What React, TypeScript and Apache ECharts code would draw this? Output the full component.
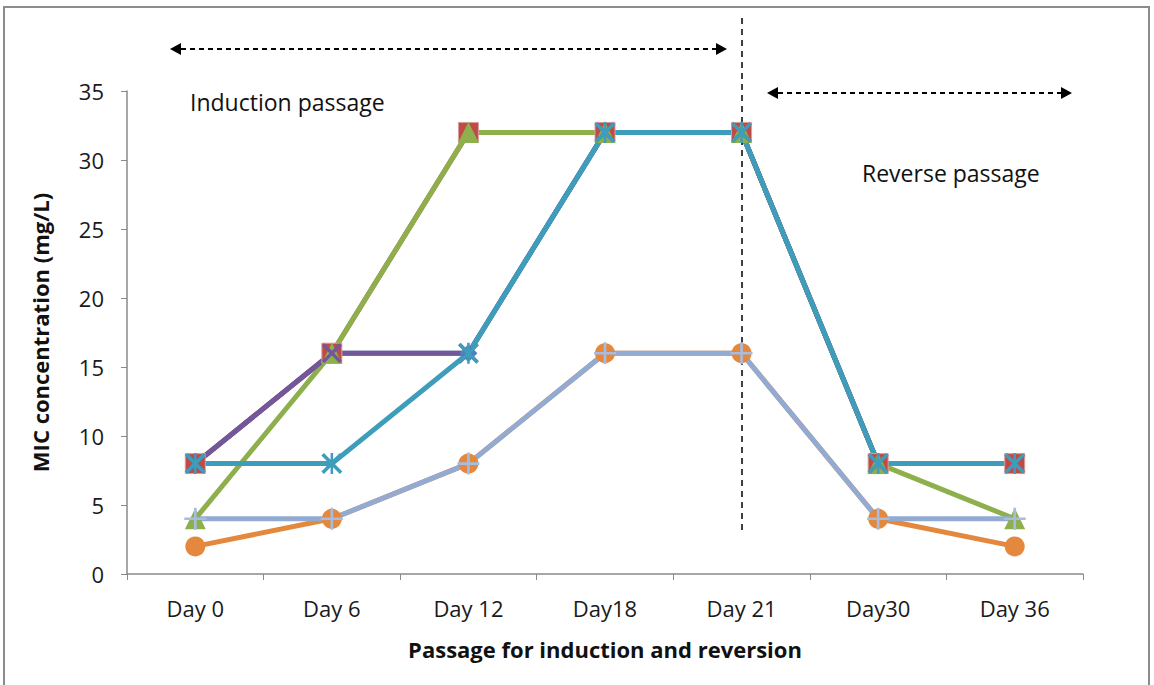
import React, { useEffect, useRef } from "react";
import * as echarts from "echarts";

const categories = ["Day 0", "Day 6", "Day 12", "Day18", "Day 21", "Day30", "Day 36"];
const yTicks = { min: 0, max: 35, interval: 5 };

const seriesBlue = [8, 16, 16, 32, 32, 8, 8];
const seriesRed = [8, 16, 32, 32, 32, 8, 8];
const seriesGreen = [4, 16, 32, 32, 32, 8, 4];
const seriesPurple = [8, 16, 16, 32, 32, 8, 8];
const seriesTeal = [8, 8, 16, 32, 32, 8, 8];
const seriesOrange = [2, 4, 8, 16, 16, 4, 2];
const seriesLavender = [4, 4, 8, 16, 16, 4, 4];

const xAxisTitle = "Passage for induction and reversion";
const yAxisTitle = "MIC concentration (mg/L)";
const inductionLabel = "Induction passage";
const reverseLabel = "Reverse passage";

const FONT = "'Open Sans', 'Noto Sans', sans-serif";

const crossPath =
  "path://M0,1.2 L1.2,0 L5,3.8 L8.8,0 L10,1.2 L6.2,5 L10,8.8 L8.8,10 L5,6.2 L1.2,10 L0,8.8 L3.8,5 Z";
const starPath =
  "path://M0,1.2 L1.2,0 L5,3.8 L8.8,0 L10,1.2 L6.2,5 L10,8.8 L8.8,10 L5,6.2 L1.2,10 L0,8.8 L3.8,5 Z M4.4,0 L5.6,0 L5.6,10 L4.4,10 Z";
const plusPath =
  "path://M4.4,0 L5.6,0 L5.6,4.4 L10,4.4 L10,5.6 L5.6,5.6 L5.6,10 L4.4,10 L4.4,5.6 L0,5.6 L0,4.4 L4.4,4.4 Z";

function lineSeries(name: string, data: number[], color: string, symbol: string, size: number, markerColor?: string) {
  return {
    name,
    type: "line",
    data,
    symbol,
    symbolSize: size,
    showAllSymbol: true,
    lineStyle: { color, width: 5 },
    itemStyle: { color: markerColor || color },
    emphasis: { disabled: true },
  };
}

function doubleArrow(x1: number, x2: number, y: number) {
  const h = 6;
  const l = 11;
  return [
    {
      type: "line",
      shape: { x1: x1 + l, y1: y, x2: x2 - l, y2: y },
      style: { stroke: "#000", lineWidth: 2, lineDash: [5, 4] },
    },
    {
      type: "polygon",
      shape: { points: [[x1, y], [x1 + l, y - h], [x1 + l, y + h]] },
      style: { fill: "#000" },
    },
    {
      type: "polygon",
      shape: { points: [[x2, y], [x2 - l, y - h], [x2 - l, y + h]] },
      style: { fill: "#000" },
    },
  ];
}

export default function App() {
  const ref = useRef<HTMLDivElement>(null);

  useEffect(() => {
    if (!ref.current) return;
    const chart = echarts.init(ref.current, null, { renderer: "svg" });
    chart.setOption({
      animation: false,
      backgroundColor: "#fff",
      grid: { left: 127, right: 71, top: 91, bottom: 111, containLabel: false },
      xAxis: {
        type: "category",
        data: categories,
        boundaryGap: true,
        axisLine: { lineStyle: { color: "#8a8a8a", width: 1.5 } },
        axisTick: { show: true, length: 6, lineStyle: { color: "#8a8a8a" } },
        axisLabel: { color: "#1a1a1a", fontSize: 22, fontFamily: FONT, margin: 23 },
        name: xAxisTitle,
        nameLocation: "middle",
        nameGap: 64,
        nameTextStyle: { color: "#111", fontSize: 22, fontWeight: "bold", fontFamily: FONT },
      },
      yAxis: {
        type: "value",
        min: yTicks.min,
        max: yTicks.max,
        interval: yTicks.interval,
        splitLine: { show: false },
        axisLine: { show: true, lineStyle: { color: "#8a8a8a", width: 1.5 } },
        axisTick: { show: true, length: 6, lineStyle: { color: "#8a8a8a" } },
        axisLabel: { color: "#1a1a1a", fontSize: 22, fontFamily: FONT, margin: 23 },
        name: yAxisTitle,
        nameLocation: "middle",
        nameGap: 76,
        nameTextStyle: { color: "#111", fontSize: 22, fontWeight: "bold", fontFamily: FONT },
      },
      series: [
        lineSeries("S1", seriesBlue, "#4F81BD", "diamond", 18),
        {
          ...lineSeries("S2", seriesRed, "#BE4B48", "rect", 20),
          itemStyle: { color: "#BE4B48", borderColor: "#d9a09e", borderWidth: 1 },
        },
        lineSeries("S3", seriesGreen, "#8EB04C", "triangle", 21),
        lineSeries("S4", seriesPurple, "#73579B", crossPath, 20),
        lineSeries("S5", seriesTeal, "#3E9DBA", starPath, 21),
        lineSeries("S6", seriesOrange, "#E3883C", "circle", 20),
        lineSeries("S7", seriesLavender, "#93AAD3", plusPath, 22, "#A6BCE0"),
      ],
      graphic: [
        {
          type: "rect",
          shape: { x: 4, y: 7, width: 1145, height: 700 },
          style: { fill: "none", stroke: "#8c8c8c", lineWidth: 2 },
          silent: true,
        },
        ...doubleArrow(170, 727, 49),
        ...doubleArrow(767, 1072, 93),
        {
          type: "line",
          shape: { x1: 742, y1: 18, x2: 742, y2: 535 },
          style: { stroke: "#000", lineWidth: 1.5, lineDash: [6, 5] },
        },
        {
          type: "text",
          x: 190,
          y: 102,
          style: { text: inductionLabel, fill: "#111", fontSize: 23, fontFamily: FONT, verticalAlign: "middle" },
        },
        {
          type: "text",
          x: 862,
          y: 173,
          style: { text: reverseLabel, fill: "#111", fontSize: 23, fontFamily: FONT, verticalAlign: "middle" },
        },
      ],
    });
    return () => chart.dispose();
  }, []);

  return (
    <div
      ref={ref}
      style={{ position: "fixed", left: 0, top: 0, width: 1154, height: 685 }}
    />
  );
}
